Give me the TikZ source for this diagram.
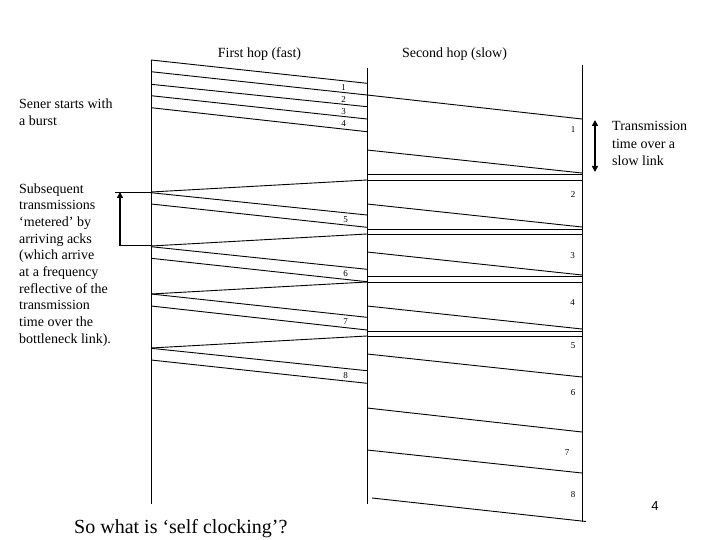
\documentclass[tikz,border=0pt]{standalone}
\usepackage{fontspec}
\setmainfont{Liberation Serif}
\newfontfamily\arialfont{Liberation Sans}
\usetikzlibrary{arrows.meta}
\begin{document}
\begin{tikzpicture}[x=1pt,y=-1pt,
  ln/.style={line width=0.9pt},
  axis/.style={line width=1pt},
  lbl/.style={font=\fontsize{9}{10}\selectfont, inner sep=0pt},
  txt/.style={font=\fontsize{14}{16.7}\selectfont, inner sep=0pt, anchor=base west},
  hdr/.style={font=\fontsize{14}{16.7}\selectfont, inner sep=0pt, anchor=base},
  bigarrow/.style={line width=1.8pt, -{Triangle[width=6pt,length=6pt]}},
  dblarrow/.style={line width=1.8pt, {Triangle[width=6pt,length=6pt]}-{Triangle[width=6pt,length=6pt]}}]
\useasboundingbox (0,0) rectangle (720,540);

% axes
\coordinate (Lt) at (151,60);  \coordinate (Lb) at (151,504);
\coordinate (Mt) at (367,68);  \coordinate (Mb) at (367,504);
\coordinate (Rt) at (582,65);  \coordinate (Rb) at (582,522);
\draw[axis] (Lt) -- (Lb);
\draw[axis] (Mt) -- (Mb);
\draw[axis] (Rt) -- (Rb);

% headers
\node[hdr] (h1) at (259.5,57.5) {First hop (fast)};
\node[hdr] (h2) at (454.5,57.5) {Second hop (slow)};

% first hop burst
\foreach \a/\b in {60/83.3, 71.7/95, 84.3/106.7, 95.7/119, 107.7/131.7}
  \draw[ln] (151,\a) -- (367,\b);
\foreach \t/\y in {1/87.5, 2/99.5, 3/111.5, 4/123.5}
  \node[lbl] (fb\t) at (343.5,\y) {\t};

% first hop acks (middle -> left)
\foreach \a/\b in {180/192, 234/246, 282/294, 336/348}
  \draw[ln] (367,\a) -- (151,\b);

% first hop later packets
\foreach \a/\b in {192.7/215, 204/227.3, 246.7/269.3, 258.3/281.7, 294/317.3, 306/330, 348.3/370.7, 360/383.3}
  \draw[ln] (151,\a) -- (367,\b);
\foreach \t/\y in {5/220, 6/273.5, 7/322, 8/376}
  \node[lbl] (fp\t) at (345.5,\y) {\t};

% second hop packets
\foreach \a/\b in {95/119, 150/173, 204/227, 252/275, 306/329, 354/377, 408/432, 450/473}
  \draw[ln] (367,\a) -- (582,\b);
\draw[ln] (372,498) -- (586,521.5);

% second hop acks (horizontal)
\foreach \y in {174, 180, 229, 234, 276.5, 282, 331, 336}
  \draw[ln] (367,\y) -- (582,\y);

\foreach \t/\x/\y in {1/573/130, 2/573/195, 3/572.5/256, 4/572.5/303, 5/573/345.5, 6/573/393, 7/567/453, 8/573/495}
  \node[lbl] (sp\t) at (\x,\y) {\t};

% left bracket arrow
\coordinate (bt) at (120,192);
\coordinate (bb) at (120,246);
\draw[ln] (115,192) -- (151,192);
\draw[ln] (119,245.5) -- (151,245.5);
\draw[bigarrow] (bb) -- (bt);

% right double arrow
\coordinate (ra) at (595,120);
\coordinate (rb) at (595,172);
\draw[dblarrow] (ra) -- (rb);

% left texts
\node[txt] (s1) at (19,109) {Sener starts with};
\node[txt] (s2) at (19,125.7) {a burst};
\node[txt] (sub1) at (19,193.3) {Subsequent};
\node[txt] (sub2) at (19,209.97) {transmissions};
\node[txt] (sub3) at (19,226.64) {‘metered’ by};
\node[txt] (sub4) at (19,243.31) {arriving acks};
\node[txt] (sub5) at (19,259.98) {(which arrive};
\node[txt] (sub6) at (19,276.65) {at a frequency};
\node[txt] (sub7) at (19,293.32) {reflective of the};
\node[txt] (sub8) at (19,309.99) {transmission};
\node[txt] (sub9) at (19,326.66) {time over the};
\node[txt] (sub10) at (19,343.33) {bottleneck link).};

% right texts
\node[txt] (r1) at (612,131) {Transmission};
\node[txt] (r2) at (612,148.5) {time over a};
\node[txt] (r3) at (612,166) {slow link};

% bottom
\node[txt, font=\fontsize{20}{24}\selectfont] (q) at (74,533.5) {So what is ‘self clocking’?};
\node[inner sep=0pt, anchor=base, font=\arialfont\fontsize{13}{15}\selectfont] (pg) at (655,510) {4};
\end{tikzpicture}
\end{document}
